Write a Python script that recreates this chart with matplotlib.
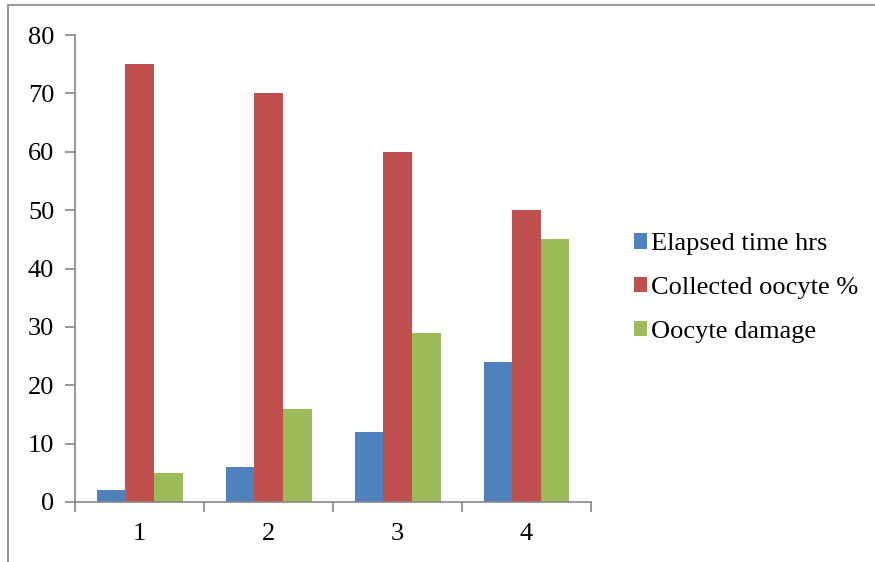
import matplotlib.pyplot as plt
import numpy as np
from matplotlib.lines import Line2D

plt.rcParams['font.family'] = ['Liberation Serif', 'DejaVu Serif']

# Dados
categorias = ['1', '2', '3', '4']
tempo_decorrido = [2, 6, 12, 24]
oocitos_coletados = [75, 70, 60, 50]
dano_oocitos = [5, 16, 29, 45]

series = ['Elapsed time hrs', 'Collected oocyte %', 'Oocyte damage']
cores = ['#4F81BD', '#C0504D', '#9BBB59']

fig = plt.figure(figsize=(8.75, 5.62), dpi=100)
ax = fig.add_axes([75 / 875, 1 - 502 / 562, (591 - 75) / 875, (502 - 35) / 562])

x = np.arange(len(categorias))
w = 1 / 4.5
for i, (vals, cor, nome) in enumerate(zip([tempo_decorrido, oocitos_coletados, dano_oocitos], cores, series)):
    ax.bar(x + (i - 1) * w, vals, width=w, color=cor, label=nome, zorder=2)

ax.set_xlim(-0.5, 3.5)
ax.set_ylim(0, 80)
ax.set_yticks(range(0, 81, 10))
ax.set_xticks(x)
ax.set_xticklabels(categorias)
ax.set_xticks(np.arange(-0.5, 4, 1), minor=True)
ax.tick_params(axis='x', which='major', length=0, pad=15, labelsize=19)
ax.tick_params(axis='x', which='minor', length=7, width=1.2, color='#868686')
ax.tick_params(axis='y', length=7, width=1.2, color='#868686', pad=8, labelsize=19)

for s in ['top', 'right']:
    ax.spines[s].set_visible(False)
for s in ['left', 'bottom']:
    ax.spines[s].set_color('#868686')
    ax.spines[s].set_linewidth(1.2)

leg = ax.legend(loc='center left', bbox_to_anchor=(1.062, 0.458), frameon=False,
                fontsize=19, handlelength=0.52, handleheight=0.52,
                handletextpad=0.15, labelspacing=0.83, borderaxespad=0)

# Moldura externa
fig.add_artist(Line2D([8 / 875, 8 / 875], [0, 1 - 5 / 562], color='#9a9a9a', lw=1.5))
fig.add_artist(Line2D([8 / 875, 1], [1 - 5 / 562, 1 - 5 / 562], color='#9a9a9a', lw=1.5))

plt.savefig('out.png')
